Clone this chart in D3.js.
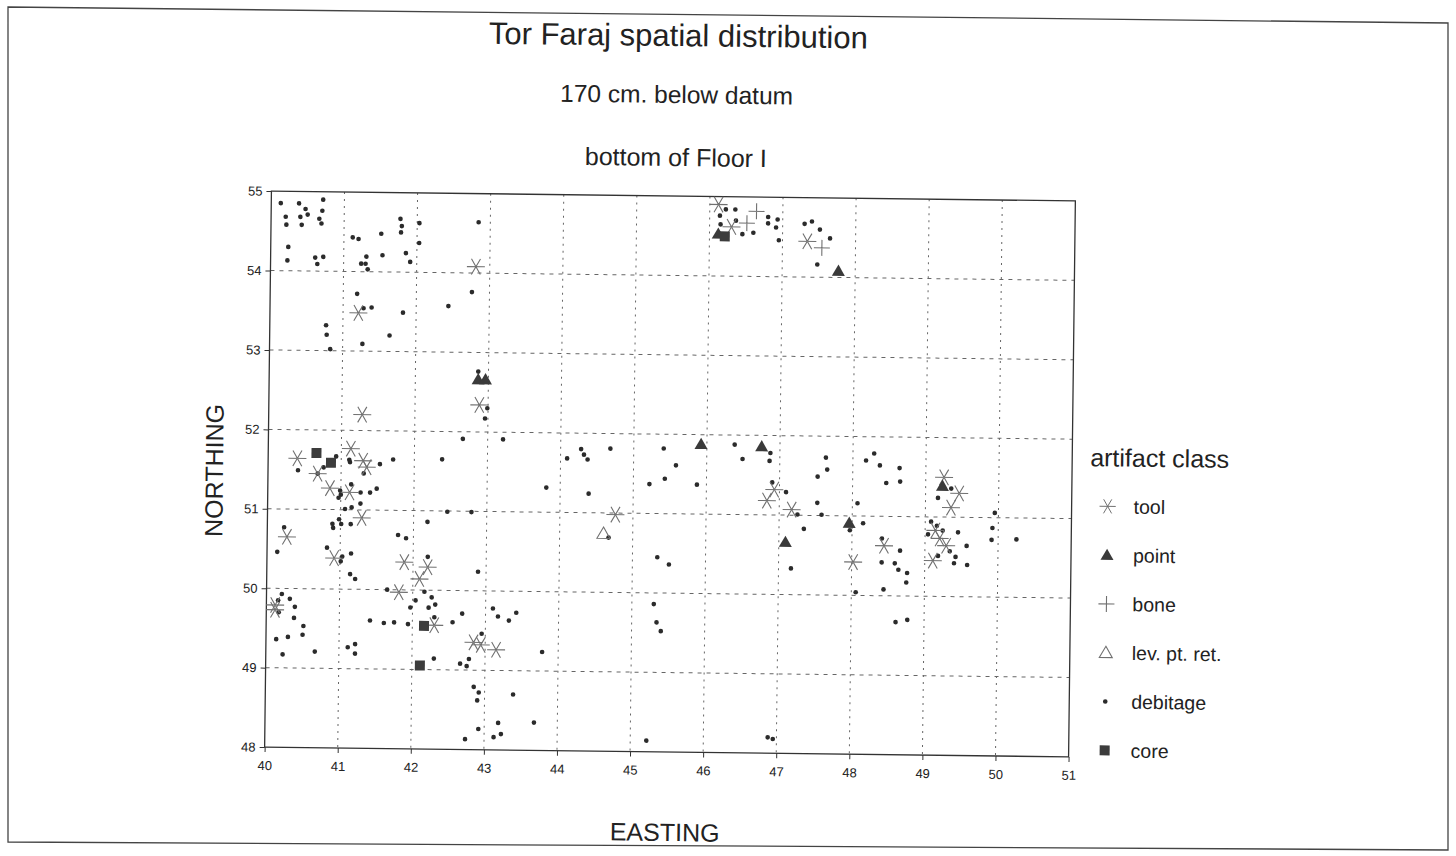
<!DOCTYPE html>
<html>
<head>
<meta charset="utf-8">
<style>
  body { margin: 0; background: #fff; }
  text { font-family: "Liberation Sans", Arial, sans-serif; fill: #222; }
</style>
</head>
<body>
<svg id="chart" width="1456" height="856"></svg>
<script src="https://cdn.jsdelivr.net/npm/d3@7/dist/d3.min.js"></script>
<script>
// values: [easting, northing]
const debitage = [
  [40.13,54.85],[40.20,54.68],[40.21,54.58],[40.38,54.85],[40.40,54.68],[40.42,54.58],[40.47,54.78],[40.50,54.71],
  [40.66,54.66],[40.69,54.60],[40.70,54.76],[40.71,54.90],[40.24,54.30],[40.23,54.13],[40.61,54.17],[40.64,54.09],
  [40.72,54.18],[40.77,53.32],[40.78,53.20],[40.83,53.02],[41.12,54.43],[41.20,54.41],[41.51,54.48],[41.77,54.67],
  [41.79,54.58],[41.78,54.50],[42.03,54.62],[42.03,54.37],[41.31,54.19],[41.24,54.10],[41.30,54.10],[41.33,54.03],
  [41.53,54.21],[41.85,54.24],[41.91,54.13],[41.19,53.72],[41.28,53.54],[41.39,53.55],[41.82,53.49],[41.64,53.20],
  [41.27,53.09],[42.44,53.58],[42.76,53.76],[42.84,54.64],[42.86,52.76],[42.99,52.30],[42.96,52.17],[42.66,51.91],
  [43.21,51.91],[40.41,51.49],[40.76,51.53],[40.93,51.67],[41.11,51.63],[41.12,51.60],[41.31,51.46],[41.53,51.58],
  [41.71,51.64],[42.38,51.65],[40.68,51.45],[40.99,51.24],[41.00,51.19],[40.97,51.15],[41.27,51.22],[41.40,51.22],
  [41.49,51.27],[41.14,51.32],[41.27,51.08],[41.06,51.01],[41.15,51.03],[40.98,50.88],[40.89,50.82],[40.90,50.77],
  [41.01,50.82],[41.14,50.82],[42.46,50.99],[42.79,50.99],[42.19,50.86],[40.23,50.77],[40.14,50.46],[41.79,50.69],
  [41.90,50.65],[40.82,50.52],[41.01,50.35],[41.03,50.41],[41.15,50.45],[42.20,50.42],[42.89,50.24],[41.14,50.19],
  [41.21,50.13],[41.65,50.00],[40.21,49.93],[40.16,49.85],[40.17,49.70],[40.32,49.87],[40.39,49.77],[40.38,49.63],
  [40.51,49.53],[40.50,49.42],[40.30,49.39],[40.14,49.36],[40.23,49.17],[40.67,49.21],[41.42,49.61],[41.61,49.58],
  [41.75,49.59],[41.94,49.57],[41.97,49.78],[42.04,49.87],[42.16,49.98],[42.26,49.91],[42.31,49.82],[42.22,49.78],
  [42.30,49.66],[42.55,49.60],[42.68,49.71],[41.12,49.27],[41.22,49.31],[41.22,49.19],[42.30,49.14],[42.95,49.46],
  [42.66,49.08],[42.75,49.05],[42.78,49.14],[43.10,49.78],[43.17,49.68],[43.32,49.63],[43.42,49.73],[42.85,48.79],
  [42.92,48.72],[42.90,48.62],[43.39,48.70],[43.19,48.34],[43.23,48.20],[43.13,48.16],[42.92,48.26],[42.74,48.13],
  [43.68,48.35],
  [46.22,54.84],[46.35,54.84],[46.14,54.76],[46.36,54.70],[46.15,54.65],[46.45,54.53],[46.60,54.55],[46.80,54.75],
  [46.80,54.67],[46.91,54.62],[46.93,54.72],[46.95,54.46],[47.30,54.67],[47.40,54.70],[47.51,54.60],[47.65,54.49],
  [47.48,54.16],
  [43.81,51.31],[44.09,51.68],[44.28,51.80],[44.32,51.73],[44.37,51.67],[44.68,51.81],[44.39,51.24],[44.67,50.69],
  [45.41,51.82],[45.58,51.61],[45.22,51.37],[45.43,51.44],[45.87,51.37],[45.34,50.45],[45.50,50.36],[46.38,51.88],
  [46.49,51.70],[46.87,51.78],[46.86,51.68],[46.90,51.41],[47.09,51.29],[47.25,51.01],[47.34,50.83],[47.17,50.33],
  [43.78,49.24],[45.30,49.86],[45.34,49.63],[45.40,49.52],[45.22,48.14],[46.88,48.20],[46.95,48.18],
  [47.63,51.73],[47.65,51.58],[47.52,51.49],[47.52,51.16],[47.58,51.01],[47.97,50.82],[48.07,51.16],[48.15,50.91],
  [48.18,51.70],[48.29,51.79],[48.37,51.64],[48.64,51.61],[48.65,51.44],[48.46,51.42],[48.41,50.72],[48.66,50.57],
  [48.41,50.42],[48.59,50.41],[48.64,50.33],[48.76,50.29],[49.35,51.36],[49.17,51.24],[49.08,50.94],[49.16,50.89],
  [49.24,50.83],[49.04,50.78],[49.45,50.81],[49.57,50.64],[49.42,50.50],[49.40,50.42],[49.58,50.40],[49.34,50.57],
  [49.18,50.51],[49.95,51.06],[49.92,50.87],[49.91,50.72],[50.25,50.73],
  [48.75,50.17],[48.06,50.04],[48.44,50.08],[48.61,49.67],[48.77,49.70]
]
const tool = [
  [41.21,53.48],[42.81,54.08],[42.88,52.34],[41.28,52.20],[40.40,51.64],[41.13,51.77],[41.30,51.62],[41.35,51.54],
  [40.68,51.45],[40.85,51.27],[41.12,51.22],[41.29,50.90],[40.27,50.65],[40.92,50.39],[41.88,50.35],[42.20,50.29],
  [42.09,50.14],[41.81,49.97],[40.12,49.79],[40.12,49.73],[42.30,49.56],[42.84,49.35],[42.94,49.32],[43.15,49.26],
  [46.12,54.90],[46.30,54.62],[47.34,54.45],[44.76,50.98],[46.93,51.32],[46.83,51.18],[47.17,51.07],[48.02,50.42],
  [48.44,50.63],[49.25,51.50],[49.46,51.30],[49.35,51.12],[49.14,50.83],[49.20,50.73],[49.29,50.64],[49.11,50.45]
]
const point = [
  [42.86,52.66],[42.96,52.66],[46.12,54.53],[47.77,54.08],[45.92,51.88],[46.75,51.86],[47.09,50.66],[47.96,50.91],
  [49.23,51.39]
]
const bone = [[46.64,54.82],[46.51,54.67],[47.54,54.37]]
const levPtRet = [[44.60,50.74]]
const core = [[40.66,51.71],[40.86,51.59],[42.16,49.55],[42.11,49.05],[46.21,54.50]]

const xTicks = [40,41,42,43,44,45,46,47,48,49,50,51]
const yTicks = [48,49,50,51,52,53,54,55]
const legendNames = ["tool","point","bone","lev. pt. ret.","debitage","core"]

// marker shapes
const shapes = {
  "tool":         {d: "M-9,0H9M-4.5,-7.8L4.5,7.8M-4.5,7.8L4.5,-7.8", fill: "none", stroke: "#707070"},
  "point":        {d: "M0,-6.5L6.5,4.8L-6.5,4.8Z", fill: "#3a3a3a", stroke: "none"},
  "bone":         {d: "M-8,0H8M0,-8V8", fill: "none", stroke: "#707070"},
  "lev. pt. ret.":{d: "M0,-6.5L6.5,4.8L-6.5,4.8Z", fill: "none", stroke: "#707070"},
  "debitage":     {d: d3.symbol(d3.symbolCircle, 17)(), fill: "#2b2b2b", stroke: "none"},
  "core":         {d: "M-5,-5H5V5H-5Z", fill: "#3c3c3c", stroke: "none"}
}

let svg = d3.select("#chart")

// page border of the scanned sheet
svg.append("path").attr("d", "M8,7L1448,23L1448,850L8,842Z")
  .attr("fill", "none").attr("stroke", "#444").attr("stroke-width", 1.3)

// the scan is tilted a little clockwise
let page = svg.append("g").attr("transform", "rotate(0.7,670,474)")

let x = d3.scaleLinear().domain([40, 51]).range([268, 1072])
let y = d3.scaleLinear().domain([48, 55]).range([752, 196])

// grid
page.append("g").selectAll("line").data(xTicks.slice(1, -1)).join("line")
  .attr("x1", d => x(d)).attr("x2", d => x(d)).attr("y1", y(55)).attr("y2", y(48))
  .attr("stroke", "#666").attr("stroke-dasharray", "2,5")
page.append("g").selectAll("line").data(yTicks.slice(1, -1)).join("line")
  .attr("y1", d => y(d)).attr("y2", d => y(d)).attr("x1", x(40)).attr("x2", x(51))
  .attr("stroke", "#666").attr("stroke-dasharray", "4,5")

// frame
page.append("rect").attr("x", x(40)).attr("y", y(55))
  .attr("width", x(51) - x(40)).attr("height", y(48) - y(55))
  .attr("fill", "none").attr("stroke", "#333").attr("stroke-width", 1.3)

let xAxis = d3.axisBottom(x).tickValues(xTicks).tickSize(5).tickSizeOuter(0).tickFormat(d3.format("d"))
page.append("g").attr("transform", "translate(0," + y(48) + ")").call(xAxis)
  .call(g => g.select(".domain").remove())
  .call(g => g.selectAll("text").attr("font-size", 13).attr("dy", "1.15em"))
let yAxis = d3.axisLeft(y).tickValues(yTicks).tickSize(5).tickSizeOuter(0).tickFormat(d3.format("d"))
page.append("g").attr("transform", "translate(" + x(40) + ",0)").call(yAxis)
  .call(g => g.select(".domain").remove())
  .call(g => g.selectAll("text").attr("font-size", 13).attr("x", -9))
page.selectAll(".tick line").attr("stroke", "#333")
page.selectAll(".tick text").style("font-family", "'Liberation Sans', Arial, sans-serif").attr("fill", "#222")

// marks
function drawMarks(rows, name) {
  let s = shapes[name]
  page.append("g").selectAll("path").data(rows).join("path")
    .attr("transform", d => "translate(" + x(d[0]) + "," + y(d[1]) + ")")
    .attr("d", s.d).attr("fill", s.fill).attr("stroke", s.stroke).attr("stroke-width", 1.1)
}
drawMarks(debitage, "debitage")
drawMarks(tool, "tool")
drawMarks(bone, "bone")
drawMarks(levPtRet, "lev. pt. ret.")
drawMarks(point, "point")
drawMarks(core, "core")

// titles
page.append("text").attr("x", 673).attr("y", 46).attr("text-anchor", "middle")
  .attr("font-size", 31).text("Tor Faraj spatial distribution")
page.append("text").attr("x", 672).attr("y", 103).attr("text-anchor", "middle")
  .attr("font-size", 24.5).text("170 cm. below datum")
page.append("text").attr("x", 672).attr("y", 166).attr("text-anchor", "middle")
  .attr("font-size", 25).text("bottom of Floor I")
page.append("text").attr("transform", "translate(223,476) rotate(-90)").attr("text-anchor", "middle")
  .attr("font-size", 25).text("NORTHING")
page.append("text").attr("x", 669).attr("y", 841).attr("text-anchor", "middle")
  .attr("font-size", 25).text("EASTING")

// legend
let legend = page.append("g")
legend.append("text").attr("x", 1090).attr("y", 461).attr("font-size", 25).text("artifact class")
let item = legend.selectAll("g.item").data(legendNames).join("g").attr("class", "item")
  .attr("transform", (d, i) => "translate(1108," + (501 + i * 48.8) + ")")
item.append("path").attr("d", d => shapes[d].d).attr("fill", d => shapes[d].fill)
  .attr("stroke", d => shapes[d].stroke).attr("stroke-width", 1.1)
  .attr("transform", d => d == "tool" ? "scale(0.9)" : null)
item.append("text").attr("x", 26).attr("y", 7).attr("font-size", 19.5).text(d => d)
</script>
</body>
</html>
